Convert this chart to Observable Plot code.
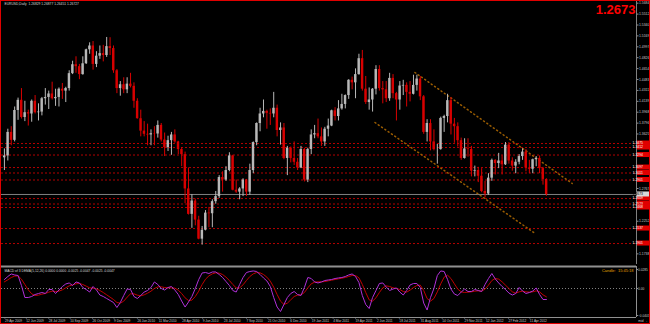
<!DOCTYPE html>
<html><head><meta charset="utf-8">
<script src="https://cdn.jsdelivr.net/npm/d3@7"></script>
<script src="https://cdn.jsdelivr.net/npm/@observablehq/plot@0.6"></script>
<style>
html,body{margin:0;padding:0;background:#000;}
#wrap{position:relative;width:650px;height:324px;background:#000;overflow:hidden;}
#main,#macd{position:absolute;left:0;}
#main{top:0;} #macd{top:264px;}
#border{position:absolute;left:0;top:0;width:650px;height:324px;border:1px solid #e00000;box-sizing:border-box;pointer-events:none;}
svg{display:block;}
</style></head><body>
<div id="wrap"><div id="main"></div><div id="macd"></div><div id="border"></div></div>
<script>
// ---- data (weekly EURUSD) ----
const firstWeek = "2009-04-27";
const lastWeek = "2012-05-14";
const wkOpen = [1.3250,1.3280,1.3650,1.3525,1.3995,1.4155,1.3885,1.3960,1.3940,1.4140,
1.3960,1.3970,1.4180,1.4200,1.4255,1.4180,1.4200,1.4330,1.4300,1.4340,
1.4575,1.4715,1.4685,1.4560,1.4730,1.4950,1.5010,1.4720,1.4850,1.4890,
1.4860,1.5000,1.4970,1.4620,1.4340,1.4400,1.4320,1.4410,1.4375,1.4140,
1.3865,1.3670,1.3620,1.3610,1.3630,1.3625,1.3760,1.3530,1.3410,1.3520,
1.3610,1.3500,1.3380,1.3300,1.2760,1.2360,1.2570,1.2270,1.1970,1.2110,
1.2380,1.2370,1.2560,1.2640,1.2940,1.2900,1.3050,1.3280,1.2740,1.2710,
1.2760,1.2900,1.2710,1.3050,1.3490,1.3790,1.3940,1.3980,1.3950,1.3940,
1.4030,1.3680,1.3720,1.3240,1.3400,1.3240,1.3180,1.3090,1.3380,1.2900,
1.3380,1.3610,1.3630,1.3580,1.3500,1.3700,1.3750,1.3990,1.3900,1.4020,
1.4090,1.4230,1.4470,1.4430,1.4560,1.4810,1.4330,1.4120,1.4160,1.4330,
1.4640,1.4340,1.4320,1.4180,1.4500,1.4260,1.4160,1.4380,1.4390,1.4280,
1.4250,1.4390,1.4490,1.4210,1.3650,1.3790,1.3500,1.3380,1.3380,1.3870,
1.3900,1.4150,1.3780,1.3740,1.3520,1.3240,1.3390,1.3380,1.3040,1.3050,
1.2960,1.2720,1.2680,1.2930,1.3210,1.3160,1.3200,1.3140,1.3450,1.3200,
1.3120,1.3180,1.3270,1.3340,1.3090,1.3070,1.3220,1.3240,1.3080,1.2910];
const wkHigh = [1.3390,1.3700,1.3740,1.4050,1.4190,1.4340,1.4140,1.4000,1.4160,1.4230,
1.4100,1.4200,1.4340,1.4300,1.4440,1.4330,1.4350,1.4420,1.4360,1.4620,
1.4770,1.4840,1.4720,1.4840,1.4960,1.5060,1.5080,1.4920,1.5010,1.5020,
1.5144,1.5140,1.5010,1.4640,1.4450,1.4510,1.4510,1.4580,1.4430,1.4180,
1.4000,1.3820,1.3780,1.3690,1.3740,1.3830,1.3790,1.3640,1.3590,1.3650,
1.3690,1.3510,1.3410,1.3340,1.3090,1.2670,1.2600,1.2330,1.2170,1.2420,
1.2470,1.2590,1.2720,1.2970,1.3030,1.3110,1.3330,1.3290,1.2900,1.2780,
1.2920,1.2910,1.3150,1.3500,1.3800,1.4030,1.4160,1.4000,1.4020,1.4280,
1.4080,1.3800,1.3790,1.3430,1.3420,1.3500,1.3240,1.3430,1.3400,1.3400,
1.3690,1.3760,1.3860,1.3720,1.3730,1.3860,1.4000,1.4040,1.4150,1.4250,
1.4240,1.4480,1.4520,1.4650,1.4880,1.4940,1.4530,1.4350,1.4340,1.4700,
1.4700,1.4450,1.4450,1.4580,1.4560,1.4280,1.4450,1.4470,1.4430,1.4450,
1.4550,1.4550,1.4530,1.4230,1.3850,1.3850,1.3690,1.3460,1.3890,1.3920,
1.4250,1.4200,1.3870,1.3800,1.3560,1.3550,1.3550,1.3430,1.3120,1.3100,
1.3080,1.2880,1.3000,1.3230,1.3220,1.3320,1.3280,1.3490,1.3490,1.3250,
1.3220,1.3300,1.3390,1.3380,1.3210,1.3230,1.3270,1.3280,1.3100,1.2920];
const wkLow = [1.3050,1.3200,1.3440,1.3500,1.3840,1.3860,1.3820,1.3750,1.3810,1.3940,
1.3830,1.3910,1.4080,1.4010,1.4160,1.4060,1.4050,1.4170,1.4120,1.4300,
1.4560,1.4580,1.4480,1.4550,1.4720,1.4880,1.4630,1.4670,1.4800,1.4760,
1.4830,1.4860,1.4580,1.4260,1.4220,1.4260,1.4260,1.4350,1.4030,1.3860,
1.3580,1.3580,1.3440,1.3440,1.3440,1.3560,1.3500,1.3270,1.3350,1.3290,
1.3480,1.3300,1.3110,1.2530,1.2350,1.2140,1.2180,1.1960,1.1876,1.2100,
1.2150,1.2150,1.2520,1.2610,1.2710,1.2880,1.3030,1.2730,1.2690,1.2590,
1.2640,1.2640,1.2660,1.3000,1.3440,1.3660,1.3880,1.3700,1.3760,1.3880,
1.3580,1.3450,1.3220,1.2970,1.3170,1.3130,1.3050,1.3080,1.2870,1.2860,
1.3300,1.3550,1.3550,1.3430,1.3430,1.3580,1.3740,1.3830,1.3830,1.4000,
1.4020,1.4170,1.4320,1.4180,1.4550,1.4300,1.4090,1.4000,1.3970,1.4240,
1.4300,1.4100,1.4120,1.4140,1.4180,1.3830,1.4000,1.4230,1.4050,1.4130,
1.4240,1.4300,1.4150,1.3620,1.3500,1.3360,1.3360,1.3150,1.3370,1.3650,
1.3800,1.3610,1.3480,1.3420,1.3210,1.3230,1.3260,1.2950,1.2950,1.2860,
1.2700,1.2620,1.2660,1.2880,1.2980,1.3080,1.2980,1.3130,1.3150,1.3040,
1.3000,1.3140,1.3210,1.3030,1.3000,1.3000,1.3110,1.3000,1.2820,1.2645];
const wkClose = [1.3280,1.3650,1.3525,1.3995,1.4155,1.3885,1.3960,1.3940,1.4140,1.3960,
1.3970,1.4180,1.4200,1.4255,1.4180,1.4200,1.4330,1.4300,1.4340,1.4575,
1.4715,1.4685,1.4560,1.4730,1.4950,1.5010,1.4720,1.4850,1.4890,1.4860,
1.5000,1.4970,1.4620,1.4340,1.4400,1.4320,1.4410,1.4375,1.4140,1.3865,
1.3670,1.3620,1.3610,1.3630,1.3625,1.3760,1.3530,1.3410,1.3520,1.3610,
1.3500,1.3380,1.3300,1.2760,1.2360,1.2570,1.2270,1.1970,1.2110,1.2380,
1.2370,1.2560,1.2640,1.2940,1.2900,1.3050,1.3280,1.2740,1.2710,1.2760,
1.2900,1.2710,1.3050,1.3490,1.3790,1.3940,1.3980,1.3950,1.3940,1.4030,
1.3680,1.3720,1.3240,1.3400,1.3240,1.3180,1.3090,1.3380,1.2900,1.3380,
1.3610,1.3630,1.3580,1.3500,1.3700,1.3750,1.3990,1.3900,1.4020,1.4090,
1.4230,1.4470,1.4430,1.4560,1.4810,1.4330,1.4120,1.4160,1.4330,1.4640,
1.4340,1.4320,1.4180,1.4500,1.4260,1.4160,1.4380,1.4390,1.4280,1.4250,
1.4390,1.4490,1.4210,1.3650,1.3790,1.3500,1.3380,1.3380,1.3870,1.3900,
1.4150,1.3780,1.3740,1.3520,1.3240,1.3390,1.3380,1.3040,1.3050,1.2960,
1.2720,1.2680,1.2930,1.3210,1.3160,1.3200,1.3140,1.3450,1.3200,1.3120,
1.3180,1.3270,1.3340,1.3090,1.3070,1.3220,1.3240,1.3080,1.2910,1.2673];
const macdMain = [0.0135,0.0180,0.0218,0.0203,0.0195,0.0045,-0.0135,-0.0135,-0.0120,-0.0090,
-0.0075,-0.0060,-0.0075,-0.0015,-0.0015,-0.0075,-0.0023,0.0030,0.0068,0.0083,
0.0045,0.0098,0.0083,0.0015,-0.0015,-0.0053,0.0030,-0.0023,-0.0098,-0.0120,
-0.0150,-0.0180,-0.0210,-0.0285,-0.0210,-0.0105,-0.0008,-0.0015,-0.0120,-0.0150,
-0.0105,-0.0053,-0.0030,0.0015,0.0098,0.0060,0.0000,-0.0023,0.0015,0.0030,
-0.0023,-0.0090,-0.0188,-0.0278,-0.0203,-0.0120,0.0000,0.0135,0.0233,0.0240,
0.0225,0.0248,0.0248,0.0210,0.0165,0.0105,0.0045,-0.0030,-0.0053,0.0060,
0.0165,0.0240,0.0255,0.0263,0.0255,0.0210,0.0158,0.0113,0.0030,-0.0135,
-0.0278,-0.0345,-0.0240,-0.0135,-0.0075,-0.0045,-0.0090,-0.0105,0.0015,0.0165,
0.0150,0.0098,0.0083,0.0098,0.0120,0.0128,0.0135,0.0150,0.0158,0.0165,
0.0180,0.0203,0.0218,0.0180,0.0090,-0.0105,-0.0240,-0.0300,-0.0135,-0.0030,
0.0075,0.0083,0.0023,-0.0030,-0.0008,0.0008,-0.0053,-0.0098,-0.0030,0.0053,
0.0075,0.0075,0.0015,-0.0218,-0.0323,-0.0135,0.0000,0.0195,0.0263,0.0255,
0.0135,-0.0008,-0.0083,-0.0105,-0.0053,-0.0008,-0.0045,-0.0045,-0.0015,-0.0030,
-0.0045,0.0060,0.0150,0.0225,0.0143,0.0083,0.0030,-0.0015,-0.0068,-0.0098,
-0.0075,0.0015,-0.0038,-0.0075,-0.0060,-0.0038,0.0008,-0.0090,-0.0165,-0.0165];
const macdSignal = [0.0100,0.0130,0.0165,0.0185,0.0190,0.0140,0.0060,-0.0020,-0.0080,-0.0105,
-0.0100,-0.0085,-0.0075,-0.0055,-0.0040,-0.0045,-0.0040,-0.0020,0.0010,0.0040,
0.0055,0.0070,0.0075,0.0060,0.0035,0.0010,0.0005,-0.0005,-0.0030,-0.0060,
-0.0095,-0.0130,-0.0165,-0.0210,-0.0220,-0.0190,-0.0130,-0.0080,-0.0080,-0.0100,
-0.0110,-0.0095,-0.0070,-0.0040,0.0000,0.0025,0.0025,0.0015,0.0010,0.0010,
0.0005,-0.0025,-0.0075,-0.0140,-0.0180,-0.0175,-0.0120,-0.0040,0.0060,0.0140,
0.0190,0.0220,0.0235,0.0230,0.0210,0.0170,0.0120,0.0060,0.0010,0.0010,
0.0055,0.0120,0.0180,0.0220,0.0240,0.0235,0.0210,0.0170,0.0110,0.0020,
-0.0090,-0.0190,-0.0240,-0.0220,-0.0170,-0.0120,-0.0100,-0.0095,-0.0060,0.0010,
0.0070,0.0095,0.0100,0.0100,0.0105,0.0115,0.0125,0.0135,0.0145,0.0155,
0.0165,0.0180,0.0195,0.0195,0.0160,0.0060,-0.0060,-0.0170,-0.0190,-0.0140,
-0.0060,0.0010,0.0040,0.0030,0.0010,0.0000,-0.0015,-0.0045,-0.0055,-0.0025,
0.0015,0.0045,0.0050,-0.0030,-0.0150,-0.0190,-0.0150,-0.0050,0.0070,0.0170,
0.0200,0.0150,0.0070,-0.0010,-0.0050,-0.0060,-0.0055,-0.0050,-0.0040,-0.0035,
-0.0040,-0.0010,0.0050,0.0120,0.0150,0.0140,0.0100,0.0050,0.0000,-0.0050,
-0.0070,-0.0050,-0.0040,-0.0050,-0.0055,-0.0050,-0.0035,-0.0050,-0.0095,-0.0125];
const levels = [1.3475,1.3412,1.3294,1.3097,1.3011,1.2901,1.2609,1.2523,1.2468,1.2137,1.1901];
const lastPrice = 1.2673;
const upperChannel = [{date:"2011-08-20", price:1.4593},{date:"2012-07-08", price:1.2846}];
const lowerChannel = [{date:"2011-05-30", price:1.3806},{date:"2012-04-23", price:1.2059}];
const yTicks = [1.5684,1.5512,1.5340,1.5169,1.4997,1.4826,1.4654,1.4483,1.4311,1.4139,1.3968,1.3796,
1.3625,1.3453,1.3282,1.3110,1.2938,1.2767,1.2595,1.2424,1.2252,1.2081,1.1909,1.1738];
const macdTicks = [0.0285, 0, -0.0405];
const dateTicks = ["2009-04-29","2009-06-12","2009-07-28","2009-09-10","2009-10-26","2009-12-09","2010-01-26",
"2010-03-11","2010-04-28","2010-06-09","2010-07-23","2010-09-07","2010-10-21","2010-12-06","2011-01-19",
"2011-03-04","2011-04-19","2011-06-02","2011-07-18","2011-08-31","2011-10-14","2011-11-29","2012-01-12",
"2012-02-27","2012-04-11"];
const titleText = "EURUSD,Daily  1.26829 1.26877 1.26451 1.26727";
const bigPrice = "1.2673";
const macdTitle = "MACD of 3 DEMA(5,12,26) 0.0000 0.0000 -0.0025 -0.0047 -0.0025 -0.0047";
const candleText = "Candle:  15:45:18";
const xDomain = [new Date("2009-04-23"), new Date("2012-11-17")];
const yDomain = [1.1571, 1.5726];
const macdDomain = [-0.0435, 0.033];

// ---- build ----
const weeks = d3.utcMonday.range(new Date(firstWeek), d3.utcDay.offset(new Date(lastWeek), 1));
const bars = weeks.map((d, i) => ({
  mon: d, mid: d3.utcDay.offset(d, 2), fri: d3.utcDay.offset(d, 5),
  open: wkOpen[i], high: wkHigh[i], low: wkLow[i], close: wkClose[i],
  macd: macdMain[i], signal: macdSignal[i]
}));
const bull = "#b8b8b8", bear = "#d80000";
const colorOf = d => d.close >= d.open ? bull : bear;
const upper = upperChannel.map(d => ({date: new Date(d.date), price: d.price}));
const lower = lowerChannel.map(d => ({date: new Date(d.date), price: d.price}));
const font = "'Liberation Sans', Arial, sans-serif";
// price-axis labels hidden under the level boxes are not drawn (the boxes cover them in the original)
const boxed = levels.concat([lastPrice]);
const visibleTicks = yTicks.filter(t => boxed.every(v => Math.abs(v - t) > 0.0085));

function levelBoxes(index, scales, values, dims) {
  const g = d3.create("svg:g").attr("font-family", font).attr("font-size", 3.4);
  const x0 = dims.width - dims.marginRight + 1;
  const all = levels.map(v => ({v, fill: "#e00000", text: "#ffffff"}))
    .concat([{v: lastPrice, fill: "#d8d8d8", text: "#000000"}]);
  for (const d of all) {
    const y = scales.y(d.v);
    g.append("rect").attr("x", x0).attr("y", y - 2.5).attr("width", 12).attr("height", 5).attr("fill", d.fill);
    g.append("text").attr("x", x0 + 0.8).attr("y", y + 1.2).attr("fill", d.text).text(d3.format(".4f")(d.v));
  }
  return g.node();
}

const main = Plot.plot({
  width: 650, height: 264, marginLeft: 1, marginRight: 14, marginTop: 0, marginBottom: 0,
  style: {background: "#000", color: "#c8c8c8", fontFamily: font, overflow: "visible"},
  x: {type: "utc", domain: xDomain, axis: null},
  y: {domain: yDomain, axis: null},
  color: {type: "identity"},
  marks: [
    Plot.ruleY(levels, {stroke: "#b40000", strokeDasharray: "2,2"}),
    Plot.ruleY([lastPrice], {stroke: "#808080"}),
    Plot.line(upper, {x: "date", y: "price", stroke: "#9a5c00", strokeDasharray: "1,3"}),
    Plot.line(lower, {x: "date", y: "price", stroke: "#9a5c00", strokeDasharray: "1,3"}),
    Plot.ruleX(bars, {x: "mid", y1: "low", y2: "high", stroke: colorOf, strokeWidth: 1}),
    Plot.rect(bars, {x1: "mon", x2: "fri", y1: "open", y2: "close", fill: colorOf}),
    Plot.ruleX([xDomain[1]], {stroke: "#808080"}),
    Plot.axisY(visibleTicks, {anchor: "right", tickSize: 1.5, tickPadding: 1, fontSize: 3.4,
      tickFormat: d3.format(".4f"), stroke: "#909090", fill: "#c8c8c8"}),
    levelBoxes,
    Plot.text([titleText], {frameAnchor: "top-left", dx: 3, dy: 2.5, fontSize: 3.3, fill: "#d8d8d8", lineAnchor: "top"}),
    Plot.text([bigPrice], {frameAnchor: "top-right", dx: -1, dy: 4, fontSize: 13, fontWeight: "bold", fill: "#ff0000", lineAnchor: "top"})
  ]
});
document.getElementById("main").appendChild(main);

const macd = Plot.plot({
  width: 650, height: 60, marginLeft: 1, marginRight: 14, marginTop: 2, marginBottom: 7,
  style: {background: "#000", color: "#c8c8c8", fontFamily: font, overflow: "visible"},
  x: {type: "utc", domain: xDomain, axis: null},
  y: {domain: macdDomain, axis: null},
  marks: [
    Plot.ruleY([0], {stroke: "#808080", strokeDasharray: "1,2"}),
    Plot.line(bars, {x: "mid", y: "signal", stroke: "#c00000", strokeWidth: 1}),
    Plot.line(bars, {x: "mid", y: "macd", stroke: "#b030d8", strokeWidth: 1}),
    Plot.ruleY([macdDomain[1]], {stroke: "#909090", strokeWidth: 2}),
    Plot.ruleY([macdDomain[0]], {stroke: "#909090"}),
    Plot.ruleX([xDomain[1]], {stroke: "#909090"}),
    Plot.axisY(macdTicks, {anchor: "right", tickSize: 1, tickPadding: 0.5, fontSize: 3.2,
      tickFormat: d => d === 0 ? "0.00" : d3.format(".4f")(d), stroke: "#909090", fill: "#c8c8c8"}),
    Plot.axisX(dateTicks.map(d => new Date(d)), {anchor: "bottom", tickSize: 1.5, tickPadding: 0.5, fontSize: 3.2,
      textAnchor: "start", dx: 0.5, tickFormat: d3.utcFormat("%-d %b %Y"), stroke: "#909090", fill: "#c8c8c8"}),
    Plot.text([macdTitle], {frameAnchor: "top-left", dx: 3, dy: 3, fontSize: 3.3, fill: "#d8d8d8", lineAnchor: "top"}),
    Plot.text([candleText], {frameAnchor: "top-right", dx: -3, dy: 2.5, fontSize: 4, fill: "#e0a000", lineAnchor: "top"})
  ]
});
document.getElementById("macd").appendChild(macd);
</script></body></html>
